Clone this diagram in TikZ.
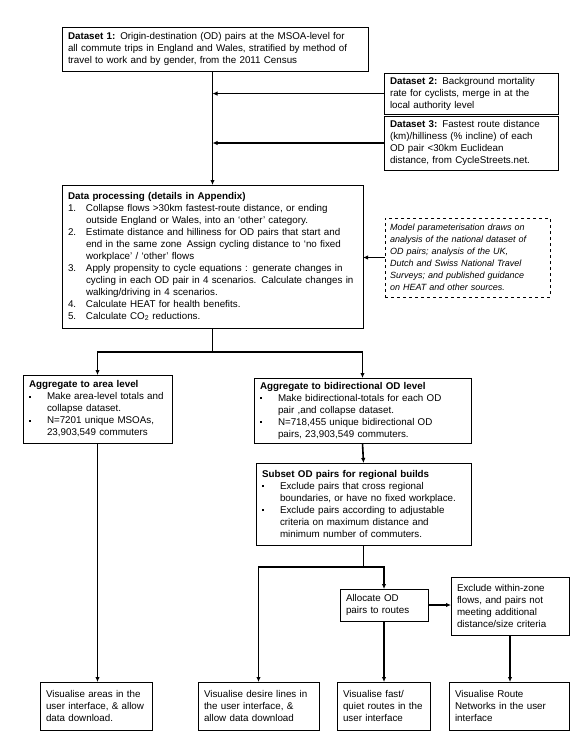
\documentclass[tikz,border=0pt]{standalone}
\usepackage{fontspec}
\setmainfont{Liberation Sans}
\usepackage{tikz}
\usetikzlibrary{arrows.meta,calc,positioning}

\newcommand{\sqbul}{\makebox[18pt][l]{\raisebox{2.4pt}{\rule{1.9pt}{1.9pt}}}}
\newcommand{\numi}[1]{\makebox[18pt][l]{#1}}
\newcommand{\indt}{\hspace*{18pt}}

\begin{document}
\begin{tikzpicture}[
  x=1pt,y=-1pt,
  box/.style={draw,line width=0.8pt,anchor=north west,align=left,
              inner xsep=6pt,inner ysep=4pt,outer sep=0pt,
              font=\fontsize{9.8}{12}\selectfont},
  note/.style={box,dashed,inner xsep=5pt,font=\fontsize{9}{12}\selectfont\itshape},
  ln/.style={line width=1.6pt},
  arr/.style={-{Latex[length=5pt,width=4.5pt]},line width=1.6pt}
]
  \useasboundingbox (0,0) rectangle (581,737);

  % inputs
  \node[box,text width=294pt,minimum height=44pt] (d1) at (62,27)
    {\textbf{Dataset 1:} Origin-destination (OD) pairs at the MSOA-level for\\
     all commute trips in England and Wales, stratified by method of\\
     travel to work and by gender, from the 2011 Census};
  \node[box,text width=162pt,minimum height=38pt] (d2) at (384,73)
    {\textbf{Dataset 2:} Background mortality\\
     rate for cyclists, merge in at the\\
     local authority level};
  \node[box,text width=162pt,minimum height=54pt] (d3) at (384,116)
    {\textbf{Dataset 3:} Fastest route distance\\
     (km)/hilliness (\% incline) of each\\
     OD pair <30km Euclidean\\
     distance, from CycleStreets.net.};

  % processing
  \node[box,text width=289pt,minimum height=143pt] (dp) at (62,185)
    {\textbf{Data processing (details in Appendix)}\\
     \numi{1.}Collapse flows >30km fastest-route distance, or ending\\
     \indt outside England or Wales, into an `other' category.\\
     \numi{2.}Estimate distance and hilliness for OD pairs that start and\\
     \indt end in the same zone\enspace Assign cycling distance to `no fixed\\
     \indt workplace' / `other' flows\\
     \numi{3.}Apply propensity to cycle equations : generate changes in\\
     \indt cycling in each OD pair in 4 scenarios.\enspace Calculate changes in\\
     \indt walking/driving in 4 scenarios.\\
     \numi{4.}Calculate HEAT for health benefits.\\
     \numi{5.}Calculate CO\textsubscript{2} reductions.};
  \node[note,text width=155pt,minimum height=79pt] (modl) at (385,218)
    {Model parameterisation draws on\\
     analysis of the national dataset of\\
     OD pairs; analysis of the UK,\\
     Dutch and Swiss National Travel\\
     Surveys; and published guidance\\
     on HEAT and other sources.};

  \draw[arr] (d1.south -| dp.north) -- (dp.north);
  \draw[arr] (d2.west) -- (d2.west -| dp.north);
  \draw[arr] (d3.west) -- (d3.west -| dp.north);
  \draw[arr] (modl.west) -- (modl.west -| dp.east);

  % aggregation
  \node[box,text width=137pt,minimum height=68pt] (area) at (23,375)
    {\textbf{Aggregate to area level}\\
     \sqbul Make area-level totals and\\
     \indt collapse dataset.\\
     \sqbul N=7201 unique MSOAs,\\
     \indt 23,903,549 commuters};
  \node[box,text width=205pt,minimum height=65pt] (bidir) at (254,378)
    {\textbf{Aggregate to bidirectional OD level}\\
     \sqbul Make bidirectional-totals for each OD\\
     \indt pair ,and collapse dataset.\\
     \sqbul N=718,455 unique bidirectional OD\\
     \indt pairs, 23,903,549 commuters.};
  \node[box,text width=203pt,minimum height=82pt] (subset) at (256,463)
    {\textbf{Subset OD pairs for regional builds}\\
     \sqbul Exclude pairs that cross regional\\
     \indt boundaries, or have no fixed workplace.\\
     \sqbul Exclude pairs according to adjustable\\
     \indt criteria on maximum distance and\\
     \indt minimum number of commuters.};

  \coordinate (split) at ($(dp.south)+(0,24)$);
  \draw[ln] (dp.south) -- (split);
  \draw[arr] (split) -| (area.north);
  \draw[arr] (split) -| (bidir.north);
  \draw[arr] (bidir.south) -- (subset.north);

  % routes
  \node[box,text width=76pt,minimum height=32pt] (alloc) at (340,589)
    {Allocate OD\\ pairs to routes};
  \node[box,text width=106pt,minimum height=58pt] (excl) at (451,577)
    {Exclude within-zone\\ flows, and pairs not\\ meeting additional\\ distance/size criteria};

  \coordinate (split2) at ($(subset.south)+(0,22)$);
  \draw[ln] (subset.south) -- (split2);
  \draw[arr] (alloc.east) -- (alloc.east -| excl.west);

  % outputs
  \node[box,text width=100pt,minimum height=48pt] (vis1) at (40,682)
    {Visualise areas in the\\ user interface, \& allow\\ data download.};
  \node[box,text width=109pt,minimum height=48pt] (vis2) at (198,682)
    {Visualise desire lines in\\ the user interface, \&\\ allow data download};
  \node[box,text width=81pt,minimum height=48pt] (vis3) at (337,682)
    {Visualise fast/\\ quiet routes in the\\ user interface};
  \node[box,text width=108pt,minimum height=48pt] (vis4) at (449,682)
    {Visualise Route\\ Networks in the user\\ interface};

  \draw[arr] (split2) -| (vis2.north);
  \draw[arr] (split2) -| (alloc.north);
  \draw[arr] (area.south) -- (area.south |- vis1.north);
  \draw[arr] (alloc.south) -- (alloc.south |- vis3.north);
  \draw[arr] (excl.south) -- (excl.south |- vis4.north);
\end{tikzpicture}
\end{document}
